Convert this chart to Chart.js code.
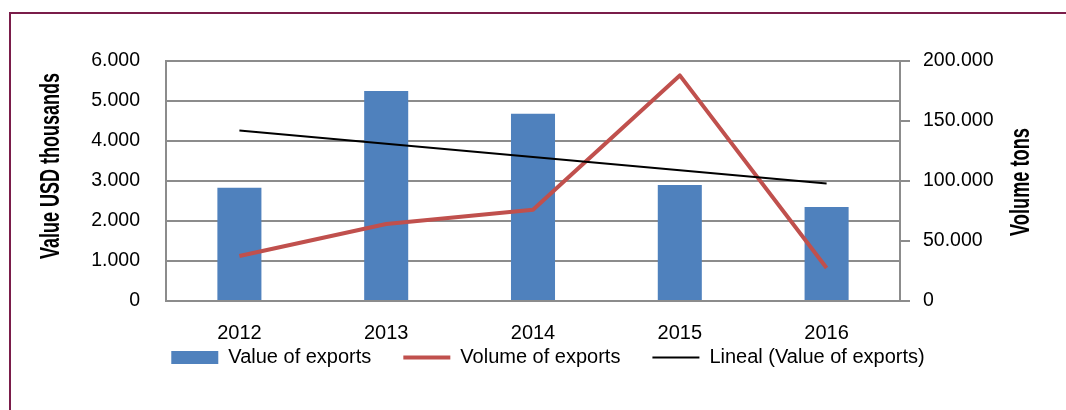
<!DOCTYPE html>
<html><head><meta charset="utf-8">
<script src="https://cdn.jsdelivr.net/npm/chart.js@4.4.1/dist/chart.umd.min.js"></script>
<style>
html,body{margin:0;padding:0;background:#fff;overflow:hidden;}
#wrap{position:relative;width:1066px;height:410px;}
#frame{position:absolute;left:9px;top:12px;width:1100px;height:500px;border-top:2px solid #7a1d4a;border-left:2px solid #7a1d4a;}
canvas{position:absolute;left:0;top:0;}
</style></head><body>
<div id="wrap"><div id="frame"></div><canvas id="c" width="1066" height="410"></canvas></div>
<script>
// ---- data ----
const categories = ['2012', '2013', '2014', '2015', '2016'];
const exportValues = [2830, 5250, 4680, 2900, 2350];          // USD thousands
const exportVolumes = [37500, 64200, 76000, 188000, 27500];   // tons
const trendValues = [4260, null, null, null, 2940];           // linear trend end points
const leftTicks = [0, 1000, 2000, 3000, 4000, 5000, 6000];
const rightTicks = [0, 50000, 100000, 150000, 200000];
const seriesLabels = ['Value of exports', 'Volume of exports', 'Lineal (Value of exports)'];
const leftTitle = 'Value USD thousands';
const rightTitle = 'Volume tons';

// ---- styles ----
const FAMILY = "'Liberation Sans', Arial, sans-serif";
const GRID = '#8c8c8c';
const fmt = v => String(v).replace(/\B(?=(\d{3})+(?!\d))/g, '.');

Chart.defaults.font.family = FAMILY;
Chart.defaults.color = '#000';

// let the category labels draw below the (thin) x-axis box
const unclipX = {
  id: 'unclipX',
  beforeDraw(chart) {
    const s = chart.scales.x;
    if (s) s._computeLabelArea = () => undefined;
  }
};

function vTitle(ctx, text, baselineX, cy, size, targetLen) {
  ctx.save();
  ctx.font = 'bold ' + size + 'px ' + FAMILY;
  const w = ctx.measureText(text).width;
  ctx.translate(baselineX, cy);
  ctx.rotate(-Math.PI / 2);
  ctx.scale(targetLen / w, 1);
  ctx.fillStyle = '#000';
  ctx.textAlign = 'center';
  ctx.textBaseline = 'alphabetic';
  ctx.fillText(text, 0, 0);
  ctx.restore();
}
const axisTitles = {
  id: 'axisTitles',
  afterDraw(chart) {
    vTitle(chart.ctx, leftTitle, 59, 166, 28, 186);
    vTitle(chart.ctx, rightTitle, 1029, 182, 28, 108);
  }
};

new Chart(document.getElementById('c'), {
  type: 'bar',
  data: {
    labels: categories,
    datasets: [
      { type: 'bar', label: seriesLabels[0], data: exportValues, backgroundColor: '#4f81bd',
        yAxisID: 'y', order: 3, barPercentage: 0.3, categoryPercentage: 1, pointStyle: 'rect' },
      { type: 'line', label: seriesLabels[1], data: exportVolumes, borderColor: '#c0504d', backgroundColor: '#c0504d',
        borderWidth: 4, pointRadius: 0, yAxisID: 'y2', order: 2, pointStyle: 'line', tension: 0, borderJoinStyle: 'round' },
      { type: 'line', label: seriesLabels[2], data: trendValues, borderColor: '#000', backgroundColor: '#000',
        borderWidth: 2, pointRadius: 0, spanGaps: true, yAxisID: 'y', order: 1, pointStyle: 'line' }
    ]
  },
  options: {
    responsive: false,
    devicePixelRatio: 1,
    animation: false,
    events: [],
    layout: { padding: { top: 61, bottom: 32.5, left: 30, right: 0 } },
    scales: {
      x: {
        offset: true,
        grid: { display: true, drawOnChartArea: false, drawTicks: false },
        border: { display: true, color: GRID, width: 2 },
        ticks: { font: { size: 20 }, color: '#000', padding: 20, maxRotation: 0, autoSkip: false },
        afterFit: s => { s.height = 14.5; }
      },
      y: {
        position: 'left', min: 0, max: 6000,
        afterBuildTicks: s => { s.ticks = leftTicks.map(v => ({ value: v })); },
        grid: { color: GRID, lineWidth: 2, drawTicks: false },
        border: { display: true, color: GRID, width: 2 },
        ticks: { font: { size: 19.5 }, color: '#000', padding: 26, callback: v => fmt(v) },
        afterFit: s => { s.width = 136; }
      },
      y2: {
        position: 'right', min: 0, max: 200000,
        afterBuildTicks: s => { s.ticks = rightTicks.map(v => ({ value: v })); },
        grid: { drawOnChartArea: false, drawTicks: true, tickLength: 10, color: GRID, lineWidth: 2 },
        border: { display: true, color: GRID, width: 2 },
        ticks: { font: { size: 19.5 }, color: '#000', padding: 13, callback: v => fmt(v) },
        afterFit: s => { s.width = 166; }
      }
    },
    plugins: {
      tooltip: { enabled: false },
      legend: {
        position: 'bottom', align: 'center',
        labels: {
          usePointStyle: true, pointStyleWidth: 47, boxHeight: 13, padding: 32,
          font: { size: 20 }, color: '#000',
          sort: (a, b) => a.datasetIndex - b.datasetIndex
        }
      }
    }
  },
  plugins: [unclipX, axisTitles]
});
</script>
</body></html>
